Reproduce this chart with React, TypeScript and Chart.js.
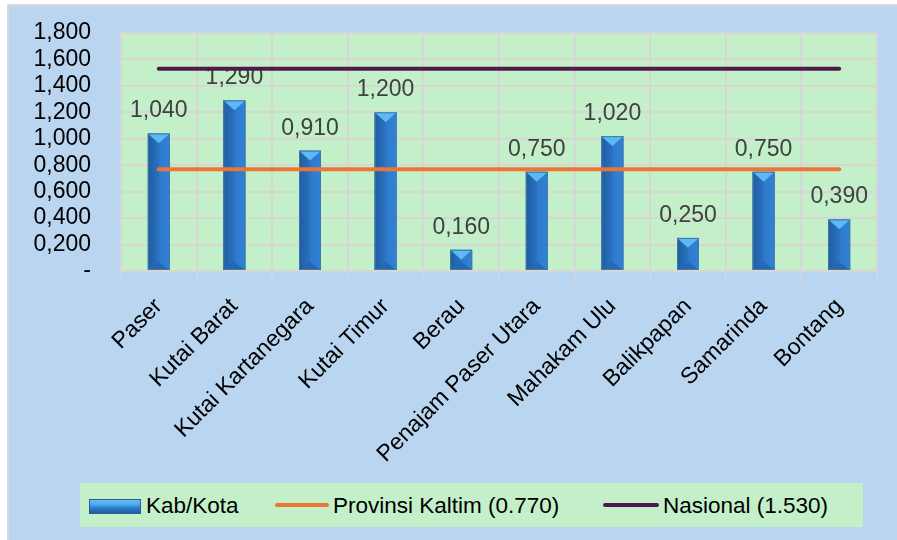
import React, { useEffect, useRef } from "react";
import { Chart, registerables } from "chart.js";

Chart.register(...registerables);

const categories = [
  "Paser",
  "Kutai Barat",
  "Kutai Kartanegara",
  "Kutai Timur",
  "Berau",
  "Penajam Paser Utara",
  "Mahakam Ulu",
  "Balikpapan",
  "Samarinda",
  "Bontang",
];
const kabKotaValues = [1.04, 1.29, 0.91, 1.2, 0.16, 0.75, 1.02, 0.25, 0.75, 0.39];
const provinsiValue = 0.77;
const nasionalValue = 1.53;
const seriesNames = ["Kab/Kota", "Provinsi Kaltim (0.770)", "Nasional (1.530)"];
const yMin = 0;
const yMax = 1.8;
const yStep = 0.2;

const FONT = '"Liberation Sans", Arial, sans-serif';
const BG_BLUE = "#BAD5F0";
const PLOT_GREEN = "#C4F0C9";
const GRID = "#D6D6D6";
const ORANGE = "#EB7634";
const PURPLE = "#4F1A4B";

const fmt = (v: number) => (v === 0 ? "-" : v.toFixed(3).replace(".", ","));

const plotBgPlugin = {
  id: "plotBg",
  beforeDraw(chart: any) {
    const { ctx, chartArea } = chart;
    ctx.save();
    ctx.fillStyle = PLOT_GREEN;
    ctx.fillRect(chartArea.left, chartArea.top, chartArea.right - chartArea.left, chartArea.bottom - chartArea.top);
    ctx.restore();
  },
};

const bevelPlugin = {
  id: "bevel",
  afterDatasetDraw(chart: any, args: any) {
    if (args.index !== 0) return;
    const { ctx } = chart;
    const meta = args.meta;
    ctx.save();
    meta.data.forEach((el: any, i: number) => {
      const { x, y, base, width } = el.getProps(["x", "y", "base", "width"], true);
      const l = x - width / 2;
      const r = x + width / 2;
      const g = ctx.createLinearGradient(l, 0, r, 0);
      g.addColorStop(0, "#1F5C9F");
      g.addColorStop(0.22, "#2466AE");
      g.addColorStop(0.5, "#2A72C2");
      g.addColorStop(0.55, "#2E7BCD");
      g.addColorStop(1, "#3181D6");
      ctx.fillStyle = g;
      ctx.fillRect(l, y, width, base - y);
      const tri = Math.min(width * 0.45, (base - y) / 2);
      // top bevel
      ctx.beginPath();
      ctx.moveTo(l, y);
      ctx.lineTo(r, y);
      ctx.lineTo(x, y + tri);
      ctx.closePath();
      ctx.fillStyle = "#5DB9F4";
      ctx.fill();
      // bottom bevel
      ctx.beginPath();
      ctx.moveTo(l, base);
      ctx.lineTo(r, base);
      ctx.lineTo(x, base - tri * 0.8);
      ctx.closePath();
      ctx.fillStyle = "#2468B3";
      ctx.fill();
      ctx.strokeStyle = "#3E7BA6";
      ctx.lineWidth = 1;
      ctx.strokeRect(l + 0.5, y + 0.5, width - 1, base - y - 1);
      // value label
      ctx.fillStyle = "#404040";
      ctx.font = `23px ${FONT}`;
      ctx.textAlign = "center";
      ctx.textBaseline = "alphabetic";
      ctx.fillText(fmt(kabKotaValues[i]), x, y - 16);
    });
    ctx.restore();
  },
};

function App() {
  const canvasRef = useRef<HTMLCanvasElement | null>(null);

  useEffect(() => {
    if (!canvasRef.current) return;
    const chart = new Chart(canvasRef.current, {
      type: "bar",
      data: {
        labels: categories,
        datasets: [
          {
            type: "bar",
            label: seriesNames[0],
            data: kabKotaValues,
            backgroundColor: "#2A72C2",
            borderWidth: 0,
            categoryPercentage: 1,
            barPercentage: 0.29,
            order: 3,
          },
          {
            type: "line",
            label: seriesNames[1],
            data: categories.map(() => provinsiValue),
            borderColor: ORANGE,
            backgroundColor: ORANGE,
            borderWidth: 4,
            borderCapStyle: "round",
            pointRadius: 0,
            order: 1,
          },
          {
            type: "line",
            label: seriesNames[2],
            data: categories.map(() => nasionalValue),
            borderColor: PURPLE,
            backgroundColor: PURPLE,
            borderWidth: 4,
            borderCapStyle: "round",
            pointRadius: 0,
            order: 2,
          },
        ],
      },
      options: {
        animation: false,
        responsive: false,
        layout: { padding: { left: 0, right: 20, top: 27, bottom: 69 } },
        plugins: {
          legend: { display: false },
          tooltip: { enabled: false },
        },
        scales: {
          x: {
            offset: true,
            grid: { color: GRID, lineWidth: 2, offset: true, drawTicks: true, tickLength: 8 },
            border: { color: GRID, width: 2 },
            ticks: {
              color: "#000",
              font: { family: FONT, size: 23 },
              minRotation: 45,
              maxRotation: 45,
              autoSkip: false,
              padding: 14,
            },
            afterFit: (scale: any) => {
              scale.height = 200;
            },
          },
          y: {
            min: yMin,
            max: yMax,
            grid: { color: GRID, lineWidth: 2, drawTicks: true, tickLength: 30, tickColor: "rgba(0,0,0,0)" },
            border: { color: GRID, width: 2 },
            ticks: {
              stepSize: yStep,
              autoSkip: false,
              color: "#000",
              font: { family: FONT, size: 23 },
              padding: 0,
              callback: (v: any) => fmt(Number(v)),
            },
            afterFit: (scale: any) => {
              scale.width = 112;
            },
          },
        },
      },
      plugins: [plotBgPlugin, bevelPlugin],
    } as any);
    return () => chart.destroy();
  }, []);

  const textStyle: React.CSSProperties = {
    position: "absolute",
    top: 11,
    fontFamily: FONT,
    fontSize: "22.5px",
    lineHeight: "23px",
    color: "#000",
    whiteSpace: "nowrap",
  };

  return (
    <div
      style={{
        position: "absolute",
        left: 7,
        top: 4,
        width: 890,
        height: 536,
        boxSizing: "border-box",
        borderTop: "2px solid #D9D9D9",
        borderLeft: "2px solid #D9D9D9",
        background: BG_BLUE,
        overflow: "hidden",
      }}
    >
      <canvas ref={canvasRef} width={888} height={534} style={{ position: "absolute", left: 0, top: 0 }} />
      <div
        style={{
          position: "absolute",
          left: 71,
          top: 477,
          width: 783,
          height: 44,
          background: PLOT_GREEN,
        }}
      >
        <div
          style={{
            position: "absolute",
            left: 9,
            top: 16,
            width: 52,
            height: 15,
            boxSizing: "border-box",
            border: "1px solid #2C5E8F",
            background: "linear-gradient(to bottom, #62BDF6 0%, #4FA8EC 35%, #2E7DD0 60%, #1F5C9F 100%)",
          }}
        />
        <span style={{ ...textStyle, left: 66 }}>{seriesNames[0]}</span>
        <div style={{ position: "absolute", left: 195, top: 20, width: 54, height: 4, borderRadius: 2, background: ORANGE }} />
        <span style={{ ...textStyle, left: 253 }}>{seriesNames[1]}</span>
        <div style={{ position: "absolute", left: 523, top: 20, width: 56, height: 4, borderRadius: 2, background: PURPLE }} />
        <span style={{ ...textStyle, left: 583 }}>{seriesNames[2]}</span>
      </div>
    </div>
  );
}

export default App;
